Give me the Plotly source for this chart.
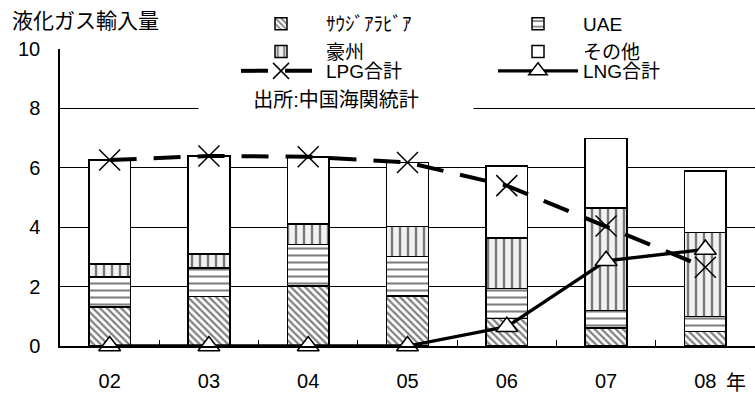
import plotly.graph_objects as go

years = ["02", "03", "04", "05", "06", "07", "08"]
saudi = [1.32, 1.66, 2.02, 1.69, 0.93, 0.60, 0.48]
uae = [1.01, 0.97, 1.40, 1.32, 1.01, 0.59, 0.51]
australia = [0.43, 0.47, 0.68, 1.01, 1.69, 3.45, 2.84]
others = [3.50, 3.30, 2.27, 2.16, 2.43, 2.35, 2.07]
lpg_total = [6.26, 6.40, 6.37, 6.18, 5.40, 4.04, 2.65]
lng_total = [0.0, 0.0, 0.0, 0.0, 0.65, 2.87, 3.25]

names = ["ｻｳｼﾞｱﾗﾋﾞｱ", "UAE", "豪州", "その他", "LPG合計", "LNG合計"]

FONT = "Liberation Sans, Arial, Noto Sans CJK JP, sans-serif"

fig = go.Figure()
bar_line = dict(color="black", width=1.5)
fig.add_trace(go.Bar(x=years, y=saudi, name=names[0],
                     marker=dict(color="white", line=bar_line,
                                 pattern=dict(shape="\\", size=5, solidity=0.45,
                                              fgcolor="black", bgcolor="white"))))
fig.add_trace(go.Bar(x=years, y=uae, name=names[1],
                     marker=dict(color="white", line=bar_line,
                                 pattern=dict(shape="-", size=7, solidity=0.3,
                                              fgcolor="black", bgcolor="white"))))
fig.add_trace(go.Bar(x=years, y=australia, name=names[2],
                     marker=dict(color="#f2f2f2", line=bar_line,
                                 pattern=dict(shape="|", size=8, solidity=0.3,
                                              fgcolor="black", bgcolor="#f2f2f2"))))
fig.add_trace(go.Bar(x=years, y=others, name=names[3],
                     marker=dict(color="white", line=bar_line)))
fig.add_trace(go.Scatter(x=years, y=lpg_total, name=names[4], mode="lines+markers",
                         cliponaxis=False, legend="legend2",
                         line=dict(color="black", width=4, dash="27px,17px"),
                         marker=dict(symbol="x-thin-open", size=21,
                                     line=dict(color="black", width=1.5), color="black")))
fig.add_trace(go.Scatter(x=years, y=lng_total, name=names[5], mode="lines+markers",
                         cliponaxis=False, legend="legend2",
                         line=dict(color="black", width=3.3),
                         marker=dict(symbol="triangle-up", size=19, color="white",
                                     line=dict(color="black", width=1.5))))

legend_common = dict(orientation="h", traceorder="normal",
                     x=(236 - 60) / 695, xanchor="left", yanchor="top",
                     entrywidth=162, entrywidthmode="pixels",
                     itemwidth=80, tracegroupgap=0, borderwidth=0,
                     font=dict(family=FONT, size=19, color="black"))

fig.update_layout(
    width=755, height=394,
    margin=dict(l=60, r=0, t=49, b=48),
    barmode="stack", bargap=0.58,
    plot_bgcolor="white", paper_bgcolor="white",
    font=dict(family=FONT, size=20, color="black"),
    showlegend=True,
    legend=dict(legend_common, y=(346 - 5) / 297, bgcolor="white"),
    legend2=dict(legend_common, y=(346 - 52) / 297, bgcolor="rgba(0,0,0,0)"),
    hovermode=False,
)
fig.update_xaxes(type="category", showline=True, linecolor="black", linewidth=1.5,
                 ticks="inside", tickson="boundaries", ticklen=6, tickcolor="black",
                 ticklabelstandoff=16, showgrid=False,
                 tickfont=dict(size=20))
fig.update_yaxes(range=[0, 10], dtick=2, showline=True, linecolor="black", linewidth=1.5,
                 showgrid=True, gridcolor="black", gridwidth=1, zeroline=False,
                 ticks="", ticklabelstandoff=14, tickfont=dict(size=20))

fig.add_annotation(text="液化ガス輸入量", xref="paper", yref="paper",
                   x=(10 - 60) / 695, y=(346 - 21) / 297, xanchor="left", yanchor="middle",
                   showarrow=False, font=dict(size=21))
fig.add_annotation(text="出所:中国海関統計", xref="paper", yref="paper",
                   x=(336 - 60) / 695, y=(346 - 100) / 297, xanchor="center", yanchor="middle",
                   showarrow=False, font=dict(size=20), bgcolor="white", width=272)
fig.add_annotation(text="年", xref="paper", yref="paper",
                   x=(736 - 60) / 695, y=(346 - 383) / 297, xanchor="center", yanchor="middle",
                   showarrow=False, font=dict(size=20))

fig.write_html("out.html")
